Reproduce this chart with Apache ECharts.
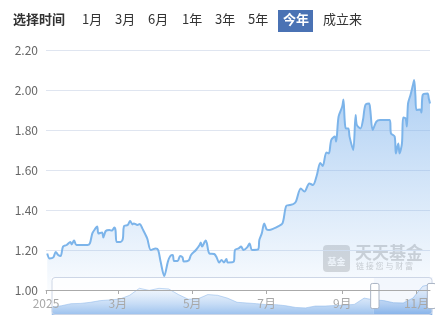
<!DOCTYPE html>
<html>
<head>
<meta charset="utf-8">
<script src="https://cdn.jsdelivr.net/npm/echarts@6/dist/echarts.min.js"></script>
<style>
html,body{margin:0;padding:0;background:#fff;}
#main{width:435px;height:324px;}
</style>
</head>
<body>
<div id="main"></div>
<script>
var dates = ['2025-01-02','2025-01-04','2025-01-07','2025-01-09','2025-01-11','2025-01-13','2025-01-15','2025-01-18','2025-01-21','2025-01-22','2025-01-24','2025-01-26','2025-02-04','2025-02-06','2025-02-08','2025-02-10','2025-02-12','2025-02-13','2025-02-16','2025-02-17','2025-02-19','2025-02-22','2025-02-24','2025-02-26','2025-02-27','2025-02-28','2025-03-03','2025-03-05','2025-03-06','2025-03-09','2025-03-11','2025-03-13','2025-03-14','2025-03-17','2025-03-19','2025-03-21','2025-03-25','2025-03-28','2025-04-01','2025-04-03','2025-04-05','2025-04-08','2025-04-11','2025-04-13','2025-04-15','2025-04-16','2025-04-19','2025-04-21','2025-04-23','2025-04-24','2025-04-28','2025-04-30','2025-05-04','2025-05-07','2025-05-08','2025-05-09','2025-05-12','2025-05-13','2025-05-15','2025-05-19','2025-05-21','2025-05-23','2025-05-25','2025-05-27','2025-05-29','2025-05-30','2025-06-04','2025-06-05','2025-06-08','2025-06-10','2025-06-12','2025-06-15','2025-06-17','2025-06-19','2025-06-24','2025-06-25','2025-06-27','2025-06-29','2025-07-01','2025-07-03','2025-07-07','2025-07-10','2025-07-14','2025-07-17','2025-07-20','2025-07-23','2025-07-25','2025-07-29','2025-08-01','2025-08-05','2025-08-08','2025-08-11','2025-08-14','2025-08-16','2025-08-19','2025-08-21','2025-08-23','2025-08-26','2025-08-27','2025-08-29','2025-09-01','2025-09-02','2025-09-03','2025-09-04','2025-09-06','2025-09-07','2025-09-10','2025-09-12','2025-09-13','2025-09-16','2025-09-18','2025-09-20','2025-09-23','2025-09-24','2025-09-26','2025-09-29','2025-10-02','2025-10-10','2025-10-11','2025-10-14','2025-10-15','2025-10-17','2025-10-18','2025-10-20','2025-10-21','2025-10-23','2025-10-24','2025-10-25','2025-10-27','2025-10-29','2025-10-30','2025-10-31','2025-11-01','2025-11-04','2025-11-05','2025-11-06','2025-11-10','2025-11-11','2025-11-12'];
var navValues = [1.183,1.158,1.163,1.19,1.175,1.17,1.217,1.225,1.24,1.228,1.247,1.225,1.225,1.233,1.283,1.303,1.317,1.283,1.288,1.263,1.295,1.30,1.297,1.312,1.30,1.24,1.24,1.255,1.32,1.325,1.345,1.328,1.333,1.325,1.33,1.308,1.258,1.20,1.208,1.20,1.142,1.07,1.142,1.17,1.175,1.145,1.145,1.17,1.163,1.142,1.147,1.175,1.20,1.225,1.238,1.217,1.247,1.233,1.183,1.18,1.163,1.137,1.15,1.138,1.155,1.138,1.142,1.20,1.208,1.217,1.20,1.213,1.233,1.20,1.203,1.25,1.283,1.333,1.303,1.30,1.308,1.317,1.333,1.42,1.425,1.43,1.442,1.508,1.492,1.533,1.525,1.57,1.635,1.62,1.688,1.683,1.75,1.767,1.742,1.867,1.917,1.953,1.85,1.808,1.808,1.767,1.70,1.875,1.825,1.808,1.85,1.925,1.933,1.90,1.80,1.842,1.85,1.85,1.783,1.767,1.683,1.733,1.683,1.733,1.863,1.858,1.817,1.933,1.975,2.025,2.05,1.975,1.90,1.903,1.887,1.975,1.983,1.958,1.933];
// full-history series shown only in the slider shadow
var historyValues = [1.65,1.75,1.90,1.92,2.00,2.12,2.17,2.23,2.50,3.00,2.85,3.00,2.95,2.55,2.22,2.25,2.55,2.50,2.30,2.00,1.95,1.90,1.83,1.83,1.75,1.63,1.60,1.73,1.73,1.77,1.80,1.85,2.30,2.17,2.12,1.97,1.95,2.30,3.15,3.30];
var monthTicks = ['2025-01-01','2025-03-01','2025-05-01','2025-07-01','2025-09-01','2025-11-01'];
var xRange = ['2025-01-01','2025-11-12'];
var yTicks = [1.0, 2.2, 0.2];
var buttons = ['1月','3月','6月','1年','3年','5年','今年','成立来'];
var buttonX = [82,115,148,182,215,248,283,323];

function ts(d){ var p = d.split('-'); return Date.UTC(+p[0], +p[1]-1, +p[2]); }

var chart = echarts.init(document.getElementById('main'));
var font = '"Microsoft YaHei","Noto Sans CJK SC",sans-serif';
var seriesData = dates.map(function(d,i){ return [ts(d), navValues[i]]; });
var historyIdx = historyValues.map(function(v,i){ return i; });
var tickValues = monthTicks.map(ts);

var graphics = [
  {type:'text', left:13, top:13, style:{text:'选择时间', font:'bold 13px '+font, fill:'#333'}}
];
buttons.forEach(function(b,i){
  if (b === '今年') {
    graphics.push({type:'rect', shape:{x:278,y:10,width:35,height:22}, style:{fill:'#4a72b4'}});
    graphics.push({type:'text', left:buttonX[i], top:13, style:{text:b, font:'bold 13px '+font, fill:'#fff'}});
  } else {
    graphics.push({type:'text', left:buttonX[i], top:13, style:{text:b, font:'13px '+font, fill:'#333'}});
  }
});
// watermark
graphics.push({type:'rect', shape:{x:323,y:245,width:27,height:27,r:4}, style:{fill:'rgba(170,170,170,0.45)'}});
graphics.push({type:'text', x:336.5, y:262, style:{text:'基金', font:'bold 9px '+font, fill:'rgba(255,255,255,0.9)', align:'center', verticalAlign:'middle'}});
graphics.push({type:'text', x:355, y:244, style:{text:'天天基金', font:'bold 17px '+font, fill:'rgba(160,160,160,0.45)'}});
graphics.push({type:'text', x:356, y:262, style:{text:'链 接 您 与 财 富', font:'8px '+font, fill:'rgba(160,160,160,0.5)'}});

var option = {
  animation:false,
  backgroundColor:'#fff',
  graphic: graphics,
  grid:[
    {left:46, right:5, top:50, bottom:34},
    {left:49, right:5, top:277, height:38, show:false}
  ],
  xAxis:[
    {
      type:'value', gridIndex:0, z:10,
      min:ts(xRange[0]), max:ts(xRange[1]),
      axisLine:{show:true, lineStyle:{color:'#aaa'}},
      axisTick:{show:true, length:4, lineStyle:{color:'#aaa'}, customValues:tickValues},
      splitLine:{show:false},
      axisLabel:{
        customValues:tickValues,
        color:'#a8a8a8', fontSize:12, fontFamily:font, margin:7,
        formatter:function(v){
          var d = new Date(v);
          if (d.getUTCMonth() === 0) return String(d.getUTCFullYear());
          return (d.getUTCMonth()+1) + '月';
        }
      }
    },
    {type:'category', gridIndex:1, data:historyIdx, show:false, boundaryGap:false}
  ],
  yAxis:[
    {
      type:'value', gridIndex:0,
      min:yTicks[0], max:yTicks[1], interval:yTicks[2],
      axisLine:{show:false}, axisTick:{show:false},
      splitLine:{lineStyle:{color:'#dfe5f0'}},
      axisLabel:{color:'#666', fontSize:12, fontFamily:font, margin:8, formatter:function(v){return v.toFixed(2);}}
    },
    {type:'value', gridIndex:1, show:false, scale:true}
  ],
  dataZoom:[{
    type:'slider', xAxisIndex:1,
    left:49, right:5, top:277, height:38,
    start:84.6, end:100,
    showDetail:false, brushSelect:false, moveHandleSize:0,
    backgroundColor:'rgba(255,255,255,0.75)',
    borderColor:'#cdd6e6', borderRadius:3,
    fillerColor:'rgba(190,210,240,0.15)',
    handleIcon:'path://M2,0 L8,0 Q10,0 10,2 L10,28 Q10,30 8,30 L2,30 Q0,30 0,28 L0,2 Q0,0 2,0 Z',
    handleSize:'66%',
    handleStyle:{color:'#fff', borderColor:'#aab4c4', borderWidth:1},
    dataBackground:{
      lineStyle:{color:'#8db8ea', width:0.6, opacity:0.9},
      areaStyle:{opacity:1, color:new echarts.graphic.LinearGradient(0,0,0,1,[{offset:0,color:'rgba(110,165,230,0.7)'},{offset:1,color:'rgba(230,240,252,0.3)'}])}
    },
    selectedDataBackground:{
      lineStyle:{color:'#7fb0e8', width:0.6},
      areaStyle:{opacity:1, color:new echarts.graphic.LinearGradient(0,0,0,1,[{offset:0,color:'rgba(100,158,228,0.85)'},{offset:1,color:'rgba(220,234,250,0.4)'}])}
    }
  }],
  series:[
    {
      type:'line', xAxisIndex:0, yAxisIndex:0,
      data:seriesData, smooth:0.3, showSymbol:false, symbol:'none',
      lineStyle:{color:'#7cb4ea', width:2},
      areaStyle:{color:new echarts.graphic.LinearGradient(0,0,0,1,[
        {offset:0,color:'rgba(120,175,235,0.85)'},
        {offset:1,color:'rgba(120,175,235,0.06)'}
      ])},
      z:2
    },
    {
      type:'line', xAxisIndex:1, yAxisIndex:1,
      data:historyValues, showSymbol:false, symbol:'none',
      lineStyle:{opacity:0}, silent:true, z:0
    }
  ]
};
chart.setOption(option);
</script>
</body>
</html>
